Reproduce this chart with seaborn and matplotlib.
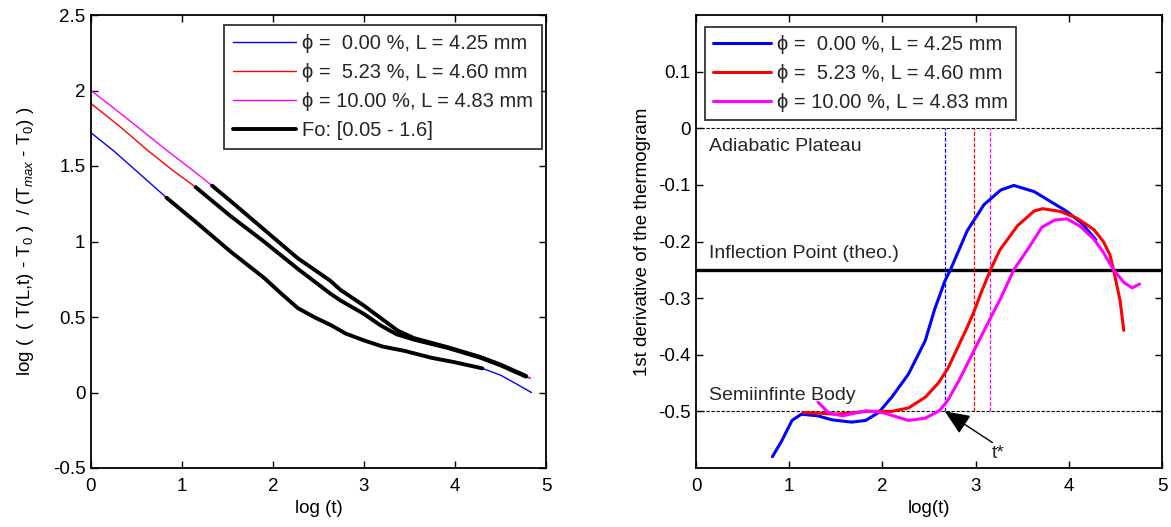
import numpy as np
import pandas as pd
import matplotlib
matplotlib.use("Agg")
import matplotlib.pyplot as plt
import seaborn as sns

# ---------------- data ----------------
labels = ["\u03d5 =  0.00 %, L = 4.25 mm",
          "\u03d5 =  5.23 %, L = 4.60 mm",
          "\u03d5 = 10.00 %, L = 4.83 mm"]
colors = ["#0000ff", "#ff0000", "#ff00ff"]
fo_label = "Fo: [0.05 - 1.6]"

# left panel: log((T - T0)/(Tmax - T0)) vs log(t)
left_x0 = [0, 0.25, 0.54, 0.83, 1.17, 1.53, 1.9, 2.1, 2.27, 2.45, 2.64, 2.8, 3.0,
           3.2, 3.45, 3.74, 4.0, 4.3, 4.5, 4.65, 4.84]
left_y0 = [1.72, 1.60, 1.445, 1.29, 1.12, 0.935, 0.76, 0.65, 0.56, 0.50, 0.445, 0.39,
           0.345, 0.305, 0.275, 0.23, 0.20, 0.16, 0.115, 0.065, 0.0]
left_x1 = [0, 0.3, 0.63, 0.9, 1.15, 1.53, 1.9, 2.27, 2.63, 2.74, 3.0, 3.18, 3.36,
           3.55, 3.92, 4.28, 4.5, 4.78, 4.82]
left_y1 = [1.914, 1.77, 1.60, 1.47, 1.36, 1.17, 1.0, 0.82, 0.655, 0.61, 0.52, 0.445,
           0.385, 0.35, 0.295, 0.23, 0.18, 0.105, 0.095]
left_x2 = [0, 0.3, 0.84, 1.1, 1.33, 1.53, 1.9, 2.27, 2.63, 2.74, 3.0, 3.19, 3.37,
           3.55, 3.92, 4.28, 4.5, 4.78, 4.83]
left_y2 = [2.0, 1.86, 1.60, 1.48, 1.37, 1.27, 1.08, 0.89, 0.74, 0.68, 0.575, 0.49,
           0.41, 0.36, 0.30, 0.235, 0.185, 0.11, 0.095]
fo_start = [0.83, 1.15, 1.33]
fo_end = [4.3, 4.78, 4.78]

# right panel: first derivative vs log(t)
right_x0 = [0.82, 0.92, 1.03, 1.13, 1.31, 1.46, 1.67, 1.82, 1.96, 2.10, 2.28, 2.46,
            2.56, 2.67, 2.73, 2.91, 3.09, 3.27, 3.41, 3.63, 3.8, 3.98, 4.14, 4.29]
right_y0 = [-0.58, -0.552, -0.516, -0.505, -0.508, -0.515, -0.519, -0.516, -0.502,
            -0.475, -0.434, -0.375, -0.32, -0.27, -0.25, -0.181, -0.135, -0.109,
            -0.101, -0.112, -0.129, -0.147, -0.168, -0.197]
right_x1 = [1.15, 1.3, 1.49, 1.65, 1.82, 2.1, 2.28, 2.46, 2.6, 2.70, 2.80, 2.90, 2.98,
            3.06, 3.16, 3.26, 3.45, 3.63, 3.72, 3.91, 4.09, 4.27, 4.37, 4.44, 4.48,
            4.55, 4.59]
right_y1 = [-0.502, -0.503, -0.505, -0.503, -0.5, -0.5, -0.494, -0.475, -0.45, -0.425,
            -0.39, -0.355, -0.325, -0.29, -0.25, -0.215, -0.172, -0.146, -0.142,
            -0.147, -0.159, -0.179, -0.2, -0.223, -0.25, -0.304, -0.357]
right_x2 = [1.31, 1.42, 1.57, 1.82, 2.0, 2.28, 2.46, 2.61, 2.70, 2.82, 3.0, 3.16, 3.27,
            3.41, 3.57, 3.71, 3.85, 3.98, 4.12, 4.27, 4.37, 4.48, 4.59, 4.68, 4.76]
right_y2 = [-0.484, -0.502, -0.508, -0.499, -0.502, -0.516, -0.512, -0.499, -0.481,
            -0.446, -0.387, -0.335, -0.3, -0.25, -0.211, -0.175, -0.162, -0.16,
            -0.173, -0.196, -0.219, -0.25, -0.272, -0.282, -0.275]
t_star = [2.67, 2.98, 3.155]

adiabatic = 0.0
inflection = -0.25
semiinf = -0.5

left_xticks = [0, 1, 2, 3, 4, 5]
left_yticks = [-0.5, 0, 0.5, 1, 1.5, 2, 2.5]
left_yticklabels = ["-0.5", "0", "0.5", "1", "1.5", "2", "2.5"]
right_xticks = [0, 1, 2, 3, 4, 5]
right_yticks = [-0.5, -0.4, -0.3, -0.2, -0.1, 0, 0.1]
right_yticklabels = ["-0.5", "-0.4", "-0.3", "-0.2", "-0.1", "0", "0.1"]

# ---------------- style ----------------
sns.set_theme(style="white")
plt.rcParams["font.family"] = ["Liberation Sans", "DejaVu Sans"]
plt.rcParams["mathtext.fontset"] = "custom"
plt.rcParams["mathtext.rm"] = "Liberation Sans"
plt.rcParams["mathtext.it"] = "Liberation Sans:italic"
FS = 13.5      # ticks and axis labels
FS_LEG = 14.5  # legends
FS_TXT = 14    # annotations

fig = plt.figure(figsize=(11.71, 5.27), dpi=100)
axL = fig.add_axes([91 / 1171, 1 - 468 / 527, (546 - 91) / 1171, (468 - 15) / 527])
axR = fig.add_axes([696 / 1171, 1 - 468 / 527, (1162 - 696) / 1171, (468 - 15) / 527])

def style_axes(ax):
    for s in ax.spines.values():
        s.set_color("black")
        s.set_linewidth(1.3)
        s.set_visible(True)
    ax.tick_params(direction="in", length=5, width=1, top=True, right=True,
                   bottom=True, left=True, labelsize=FS, colors="black")
    ax.tick_params(axis="x", pad=7)
    ax.tick_params(axis="y", pad=4)

# left panel
lx = [left_x0, left_x1, left_x2]
ly = [left_y0, left_y1, left_y2]
for i in range(3):
    df = pd.DataFrame({"x": lx[i], "y": ly[i]})
    sns.lineplot(data=df, x="x", y="y", ax=axL, color=colors[i], lw=1.0,
                 estimator=None, sort=False, label=labels[i])
for i in range(3):
    df = pd.DataFrame({"x": lx[i], "y": ly[i]})
    seg = df[(df.x >= fo_start[i]) & (df.x <= fo_end[i])]
    sns.lineplot(data=seg, x="x", y="y", ax=axL, color="black", lw=2.8,
                 estimator=None, sort=False, label=fo_label if i == 0 else "_nolegend_")
axL.set_xlim(0, 5)
axL.set_ylim(-0.5, 2.5)
axL.set_xticks(left_xticks)
axL.set_yticks(left_yticks)
axL.set_yticklabels(left_yticklabels)
axL.set_xlabel("log (t)", fontsize=FS, color="black", labelpad=4)
axL.set_ylabel("log (  ( T(L,t) - T$_0$ )  / (T$_{max}$ - T$_0$) )", fontsize=FS,
               color="black", labelpad=12)
style_axes(axL)
legL = axL.legend(loc="upper right", bbox_to_anchor=(0.991, 0.978), borderaxespad=0,
                  fontsize=FS_LEG, frameon=True, fancybox=False, edgecolor="black",
                  handlelength=3.1, handletextpad=0.3, labelspacing=0.5, borderpad=0.45)
legL.get_frame().set_linewidth(1.3)

# right panel
rx = [right_x0, right_x1, right_x2]
ry = [right_y0, right_y1, right_y2]
for i in range(3):
    df = pd.DataFrame({"x": rx[i], "y": ry[i]})
    sns.lineplot(data=df, x="x", y="y", ax=axR, color=colors[i], lw=2.2,
                 estimator=None, sort=False, label=labels[i])
axR.axhline(adiabatic, color="black", lw=0.8, ls=(0, (3, 1.5)), zorder=1)
axR.axhline(semiinf, color="black", lw=0.8, ls=(0, (3, 1.5)), zorder=1)
axR.axhline(inflection, color="black", lw=2.4, zorder=1)
for i in range(3):
    axR.vlines(t_star[i], semiinf, adiabatic, color=colors[i], lw=0.9,
               ls=(0, (3, 1.5)), zorder=1)
axR.text(0.14, -0.032, "Adiabatic Plateau", fontsize=FS_TXT, va="center", ha="left")
axR.text(0.14, -0.222, "Inflection Point (theo.)", fontsize=FS_TXT, va="center", ha="left")
axR.text(0.14, -0.472, "Semiinfinte Body", fontsize=FS_TXT, va="center", ha="left")
axR.annotate("", xy=(t_star[0], semiinf), xytext=(3.18, -0.555),
             arrowprops=dict(arrowstyle="-|>,head_length=0.7,head_width=0.3",
                             color="black", lw=1.0, mutation_scale=22,
                             shrinkA=0, shrinkB=0))
axR.text(3.24, -0.574, "t*", fontsize=FS_TXT, ha="center", va="center")
axR.set_xlim(0, 5)
axR.set_ylim(-0.6, 0.2)
axR.set_xticks(right_xticks)
axR.set_yticks(right_yticks)
axR.set_yticklabels(right_yticklabels)
axR.set_xlabel("log(t)", fontsize=FS, color="black", labelpad=4)
axR.set_ylabel("1st derivative of the thermogram", fontsize=FS, color="black",
               labelpad=5)
style_axes(axR)
legR = axR.legend(loc="upper left", bbox_to_anchor=(0.019, 0.974), borderaxespad=0,
                  fontsize=FS_LEG, frameon=True, fancybox=False, edgecolor="black",
                  handlelength=2.9, handletextpad=0.3, labelspacing=0.5, borderpad=0.4)
legR.get_frame().set_linewidth(1.3)

fig.savefig("out.png", dpi=100, facecolor="white")
